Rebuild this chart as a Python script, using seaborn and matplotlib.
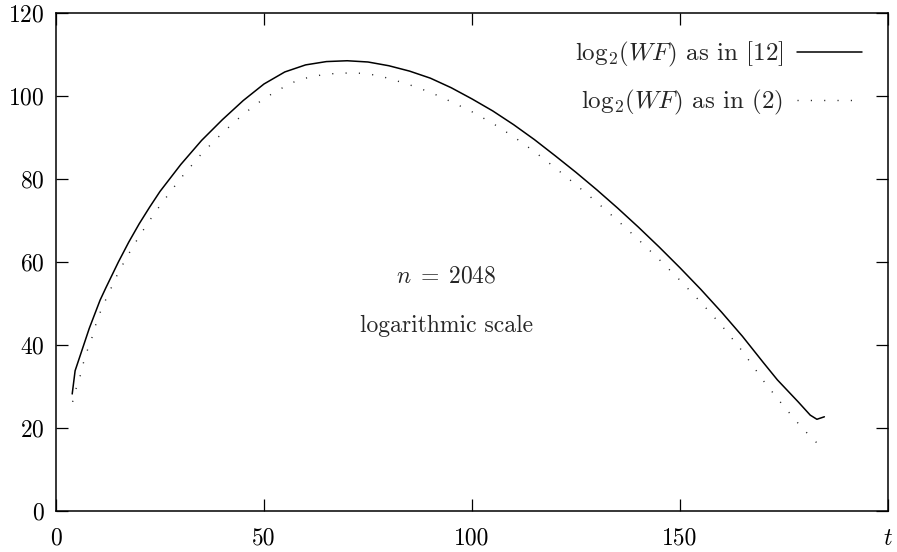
import matplotlib
matplotlib.use("Agg")
import matplotlib.pyplot as plt
import seaborn as sns

# values
t_ref = [3.9, 4.6, 6, 8, 10.6, 12, 15, 17.5, 20, 22.5, 25, 30, 35, 40, 45, 50, 55, 60, 65, 70,
         75, 80, 85, 90, 95, 100, 105, 110, 115, 120, 125, 130, 135, 140, 145, 150, 155, 160,
         165, 170, 173.4, 178.4, 181.3, 182.9, 184.7]
wf_ref = [28.2, 33.8, 38.0, 44.0, 50.8, 53.8, 60.0, 64.8, 69.2, 73.2, 77.0, 83.5, 89.3, 94.3,
          98.9, 102.9, 105.8, 107.5, 108.3, 108.5, 108.2, 107.3, 106.0, 104.3, 102.0, 99.3,
          96.4, 93.1, 89.5, 85.6, 81.6, 77.4, 73.0, 68.4, 63.6, 58.6, 53.4, 47.9, 42.1, 35.8,
          31.6, 26.3, 23.1, 22.1, 22.7]

t_eq2 = [4.0, 4.8, 5.8, 6.6, 7.5, 8.6, 9.5, 10.6, 12, 15, 17.5, 20, 22.5, 25, 30, 35, 40, 45,
         50, 55, 58.5, 64.9, 71.2, 74.4, 77.6, 80.8, 85, 90, 95.5, 100, 105, 110, 115, 120, 125,
         130, 135, 140, 145, 150, 155, 160, 165, 170.4, 172.4, 174.4, 176.4, 178.5, 180.7,
         182.9, 185]
wf_eq2 = [26.3, 29.4, 32.5, 35.7, 38.6, 41.6, 44.7, 47.8, 51.0, 57.5, 62.0, 66.2, 70.0, 73.6,
          80.2, 86.1, 91.1, 95.6, 99.4, 102.3, 104.0, 105.3, 105.6, 105.4, 104.9, 104.0, 102.7,
          100.9, 98.4, 96.2, 93.4, 90.2, 86.6, 82.7, 78.6, 74.4, 70.0, 65.4, 60.6, 55.6, 50.3,
          44.7, 38.5, 30.9, 28.4, 25.9, 23.5, 21.0, 18.6, 16.4, 15.0]

x_ticks = [0, 50, 100, 150, 200]
x_tick_labels = ["0", "50", "100", "150", "$t$"]
y_ticks = [0, 20, 40, 60, 80, 100, 120]

sns.set_theme(style="ticks")
plt.rcParams["font.family"] = ["cmr10", "DejaVu Serif"]
plt.rcParams["mathtext.fontset"] = "cm"
plt.rcParams["axes.formatter.use_mathtext"] = True

fig = plt.figure(figsize=(8.97, 5.52), dpi=100)
ax = fig.add_axes([0.0624, 0.0743, 0.9276, 0.9021])

sns.lineplot(x=t_ref, y=wf_ref, ax=ax, color="black", linewidth=1.1,
             label=r"$\mathrm{log}_2(WF)$ as in [12]", sort=False)
sns.lineplot(x=t_eq2, y=wf_eq2, ax=ax, color="#222222", linewidth=1.0,
             linestyle=(0, (0.8, 8.8)), label=r"$\mathrm{log}_2(WF)$ as in (2)", sort=False)

ax.set_xlim(0, 200)
ax.set_ylim(0, 120)
ax.set_xticks(x_ticks)
ax.set_xticklabels(x_tick_labels)
ax.set_yticks(y_ticks)
ax.tick_params(direction="in", length=8.5, width=0.9, top=True, right=True,
               labelsize=17, colors="black")
ax.tick_params(axis="x", pad=12)
ax.tick_params(axis="y", pad=8)
for s in ax.spines.values():
    s.set_linewidth(1.1)
    s.set_color("black")
ax.set_xlabel("")
ax.set_ylabel("")

ax.text(93.8, 56.5, r"$n\;=\;2048$", ha="center", va="center", fontsize=17)
ax.text(93.8, 44.6, "logarithmic scale", ha="center", va="center", fontsize=17)

leg = ax.legend(loc="upper right", bbox_to_anchor=(0.981, 0.966), borderaxespad=0,
                frameon=False, markerfirst=False, fontsize=18,
                handlelength=2.6, handletextpad=0.56, labelspacing=0.75)
for txt in leg.get_texts():
    txt.set_ha("right")

fig.savefig("out.png", dpi=100)
